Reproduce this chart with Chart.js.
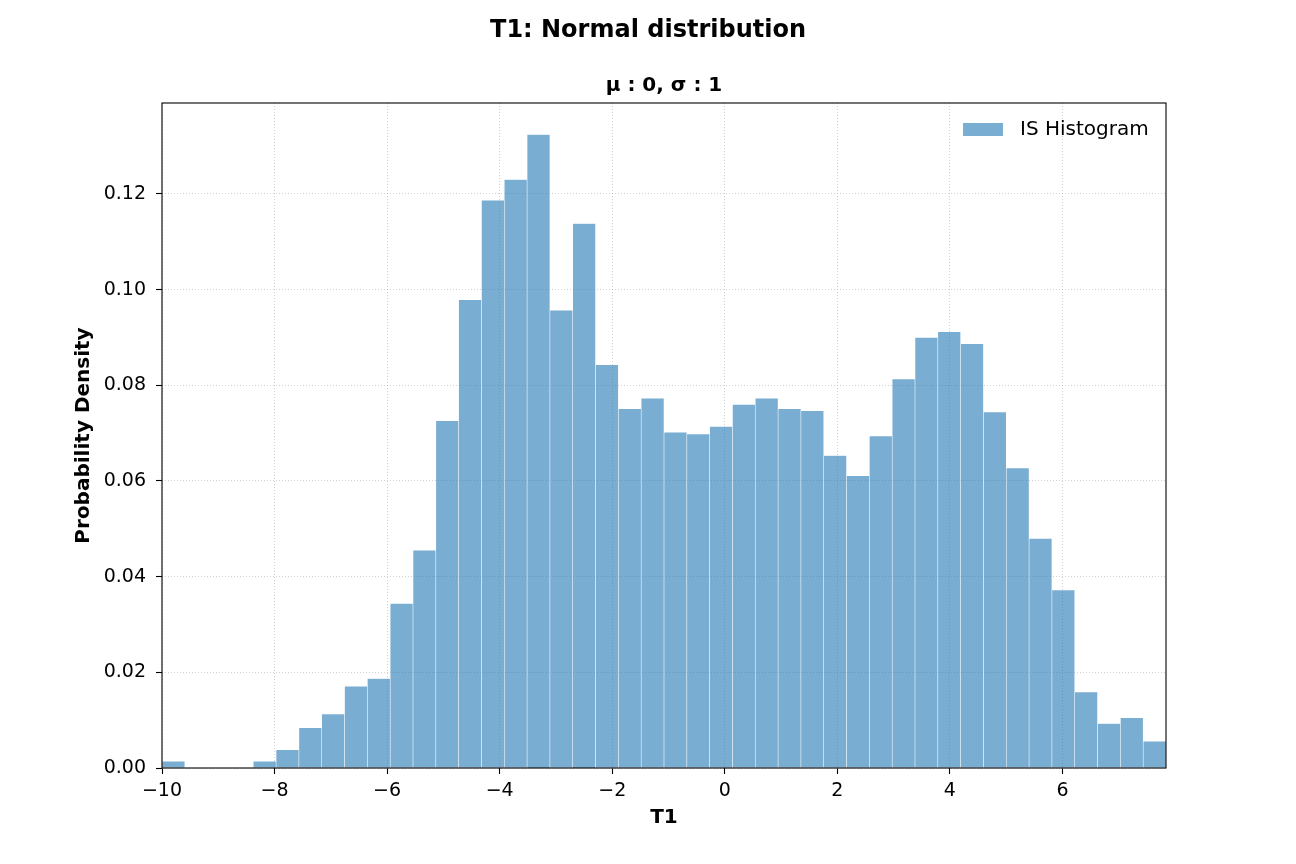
<!DOCTYPE html>
<html>
<head>
<meta charset="utf-8">
<script src="https://cdn.jsdelivr.net/npm/chart.js@4.4.1/dist/chart.umd.min.js"></script>
<style>
  html, body { margin: 0; padding: 0; background: #ffffff; }
  #wrap { width: 1296px; height: 864px; position: relative; }
</style>
</head>
<body>
<div id="wrap"><canvas id="c" width="1296" height="864"></canvas></div>
<script>
// ---- data ----
const mainTitle = 'T1: Normal distribution';
const subTitle = 'μ : 0, σ : 1';
const xLabel = 'T1';
const yLabel = 'Probability Density';
const seriesLabel = 'IS Histogram';

const binLow = -10.0;      // left edge of first bin
const binHigh = 7.84;      // right edge of last bin
const density = [
  0.0014, 0.0000, 0.0000, 0.0000, 0.0014, 0.0038, 0.0084, 0.0113, 0.0171, 0.0187,
  0.0344, 0.0455, 0.0726, 0.0979, 0.1187, 0.1230, 0.1324, 0.0957, 0.1138, 0.0843,
  0.0751, 0.0773, 0.0702, 0.0698, 0.0714, 0.0760, 0.0773, 0.0751, 0.0747, 0.0653,
  0.0611, 0.0694, 0.0813, 0.0900, 0.0912, 0.0887, 0.0744, 0.0627, 0.0480, 0.0372,
  0.0159, 0.0093, 0.0105, 0.0056
];
const xTicks = [-10, -8, -6, -4, -2, 0, 2, 4, 6];
const yTicks = [0.00, 0.02, 0.04, 0.06, 0.08, 0.10, 0.12];
const yMax = 0.139;

// ---- build histogram points (bin centres of equal-width bins) ----
const binW = (binHigh - binLow) / density.length;
const points = density.map((d, i) => ({ x: binLow + binW * (i + 0.5), y: d }));

const FONT = "'DejaVu Sans', 'Liberation Sans', sans-serif";
const barFill = 'rgba(31,119,180,0.6)';

const overlay = {
  id: 'overlay',
  afterDraw(chart) {
    const { ctx, chartArea: a } = chart;
    ctx.save();
    // frame (all four spines)
    ctx.strokeStyle = '#000000';
    ctx.lineWidth = 1.1;
    ctx.strokeRect(a.left, a.top, a.right - a.left, a.bottom - a.top);
    // titles
    ctx.fillStyle = '#000000';
    ctx.textBaseline = 'alphabetic';
    ctx.textAlign = 'center';
    ctx.font = "bold 24px " + FONT;
    ctx.fillText(mainTitle, chart.width / 2, 37);
    ctx.font = "bold 20px " + FONT;
    ctx.fillText(subTitle, (a.left + a.right) / 2, 91);
    // legend inside upper right
    const lx = a.right - 203, ly = a.top + 20;
    ctx.fillStyle = barFill;
    ctx.fillRect(lx, ly, 40, 13);
    ctx.fillStyle = '#000000';
    ctx.textAlign = 'left';
    ctx.textBaseline = 'middle';
    ctx.font = "20px " + FONT;
    ctx.fillText(seriesLabel, lx + 57, ly + 7);
    ctx.restore();
  }
};

new Chart(document.getElementById('c'), {
  type: 'bar',
  data: {
    datasets: [{
      label: seriesLabel,
      data: points,
      backgroundColor: barFill,
      borderColor: 'rgba(255,255,255,0.25)',
      borderWidth: 0.6,
      barPercentage: 1.0,
      categoryPercentage: 1.0
    }]
  },
  options: {
    responsive: false,
    animation: false,
    devicePixelRatio: 1,
    layout: { padding: { top: 103, right: 130, bottom: 0, left: 0 } },
    plugins: {
      legend: { display: false },
      tooltip: { enabled: false },
      title: { display: false }
    },
    scales: {
      x: {
        type: 'linear',
        min: binLow,
        max: binHigh,
        offset: false,
        afterFit(s) { s.height = 96; },
        afterBuildTicks(s) { s.ticks = xTicks.map(v => ({ value: v })); },
        grid: {
          offset: false,
          color: 'rgba(176,176,176,0.75)',
          lineWidth: 0.8,
          drawTicks: true,
          tickLength: 6,
          tickColor: '#000000',
          tickWidth: 1.1,
          tickBorderDash: []
        },
        border: { display: false, dash: [1, 2] },
        ticks: {
          autoSkip: false,
          maxRotation: 0,
          padding: 6,
          color: '#000000',
          font: { family: FONT, size: 19 },
          callback: v => (v < 0 ? '\u2212' + Math.abs(v) : String(v))
        },
        title: {
          display: true,
          text: xLabel,
          color: '#000000',
          font: { family: FONT, size: 20, weight: 'bold' },
          padding: { top: 0, bottom: 34 }
        }
      },
      y: {
        type: 'linear',
        min: 0,
        max: yMax,
        afterFit(s) { s.width = 162; },
        afterBuildTicks(s) { s.ticks = yTicks.map(v => ({ value: v })); },
        grid: {
          color: 'rgba(176,176,176,0.75)',
          lineWidth: 0.8,
          drawTicks: true,
          tickLength: 6,
          tickColor: '#000000',
          tickWidth: 1.1,
          tickBorderDash: []
        },
        border: { display: false, dash: [1, 2] },
        ticks: {
          padding: 10,
          color: '#000000',
          font: { family: FONT, size: 19 },
          callback: v => Number(v).toFixed(2)
        },
        title: {
          display: true,
          text: yLabel,
          color: '#000000',
          font: { family: FONT, size: 20, weight: 'bold' },
          padding: { top: 72, bottom: 0 }
        }
      }
    }
  },
  plugins: [overlay]
});
</script>
</body>
</html>
